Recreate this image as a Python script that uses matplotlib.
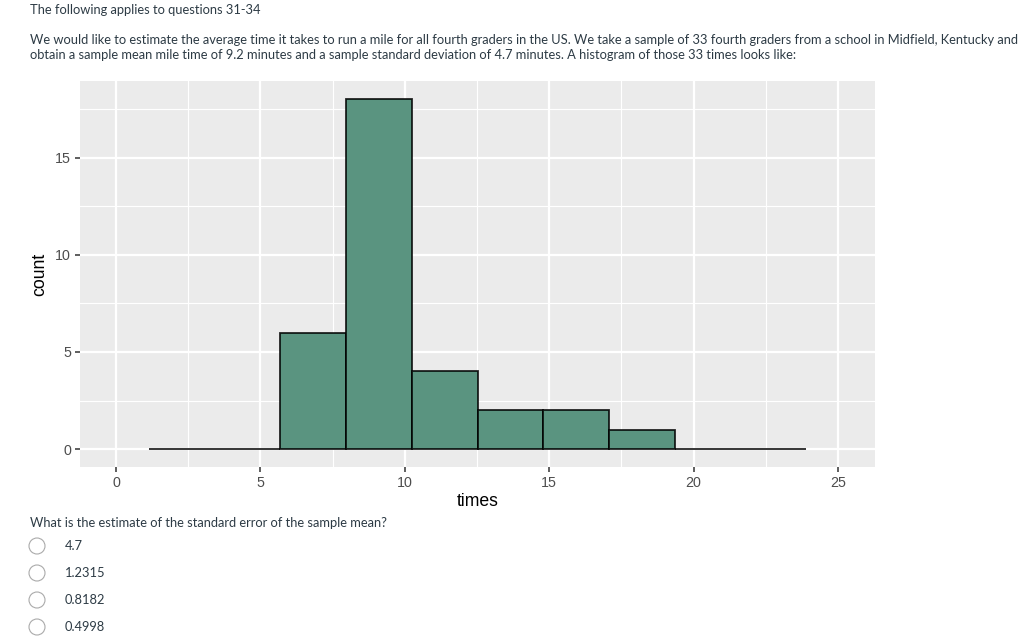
import matplotlib
matplotlib.use("Agg")
import matplotlib.pyplot as plt
from matplotlib.patches import Circle

# ---- data ----
bin_edges = [1.14, 3.415, 5.69, 7.965, 10.24, 12.515, 14.79, 17.065, 19.34, 21.615, 23.89]
counts = [0, 0, 6, 18, 4, 2, 2, 1, 0, 0]
x_ticks = [0, 5, 10, 15, 20, 25]
y_ticks = [0, 5, 10, 15]
x_minor = [2.5, 7.5, 12.5, 17.5, 22.5]
y_minor = [2.5, 7.5, 12.5, 17.5]
x_label = "times"
y_label = "count"

header = "The following applies to questions 31-34"
para = ["We would like to estimate the average time it takes to run a mile for all fourth graders in the US. We take a sample of 33 fourth graders from a school in Midfield, Kentucky and",
        "obtain a sample mean mile time of 9.2 minutes and a sample standard deviation of 4.7 minutes. A histogram of those 33 times looks like:"]
question = "What is the estimate of the standard error of the sample mean?"
options = ["4.7", "1.2315", "0.8182", "0.4998"]

W, H = 1024, 642
fig = plt.figure(figsize=(W / 100, H / 100), dpi=100)
fig.patch.set_facecolor("white")

# panel: left 80, right 875, top 81, bottom 467 (pixels)
ax = fig.add_axes([80 / W, 1 - 467 / H, (875 - 80) / W, (467 - 81) / H])
ax.set_facecolor("#EBEBEB")
for s in ax.spines.values():
    s.set_visible(False)

widths = [b - a for a, b in zip(bin_edges[:-1], bin_edges[1:])]
ax.bar(bin_edges[:-1], counts, width=widths, align="edge",
       color="#5A9480", edgecolor=(0, 0, 0, 0.85), linewidth=1.3, zorder=3)

ax.set_xlim(-1.25, 26.28)
ax.set_ylim(-0.92, 18.95)
ax.set_xticks(x_ticks)
ax.set_yticks(y_ticks)
ax.set_xticks(x_minor, minor=True)
ax.set_yticks(y_minor, minor=True)
ax.grid(True, which="major", color="white", linewidth=1.6, zorder=0)
ax.grid(True, which="minor", color="white", linewidth=0.8, zorder=0)
ax.set_axisbelow(True)
ax.tick_params(which="major", length=3.5, width=1.1, color="#333333",
               labelcolor="#4D4D4D", labelsize=10.3, pad=3)
ax.tick_params(which="minor", length=0)
for lab in ax.get_xticklabels() + ax.get_yticklabels():
    lab.set_family("Liberation Sans")
ax.set_xlabel(x_label, fontsize=12.7, family="Liberation Sans", color="black", labelpad=2)
ax.set_ylabel(y_label, fontsize=12.7, family="Liberation Sans", color="black", labelpad=5)

# ---- surrounding text ----
tf = dict(family="Lato", fontsize=9.3, color="#2D3B45", va="center", ha="left")
fig.text(30 / W, 1 - 10 / H, header, **tf)
fig.text(30 / W, 1 - 40 / H, para[0], **tf)
fig.text(30 / W, 1 - 55 / H, para[1], **tf)
fig.text(30 / W, 1 - 523 / H, question, **tf)
opt_y = [546, 573, 600, 627]
for yy, o in zip(opt_y, options):
    fig.text(65 / W, 1 - yy / H, o, **tf)
    c = Circle((37, H - yy), 8, transform=None, facecolor="white",
               edgecolor="#AAAAAA", linewidth=0.8)
    fig.patches.append(c)

fig.savefig("out.png", dpi=100)
